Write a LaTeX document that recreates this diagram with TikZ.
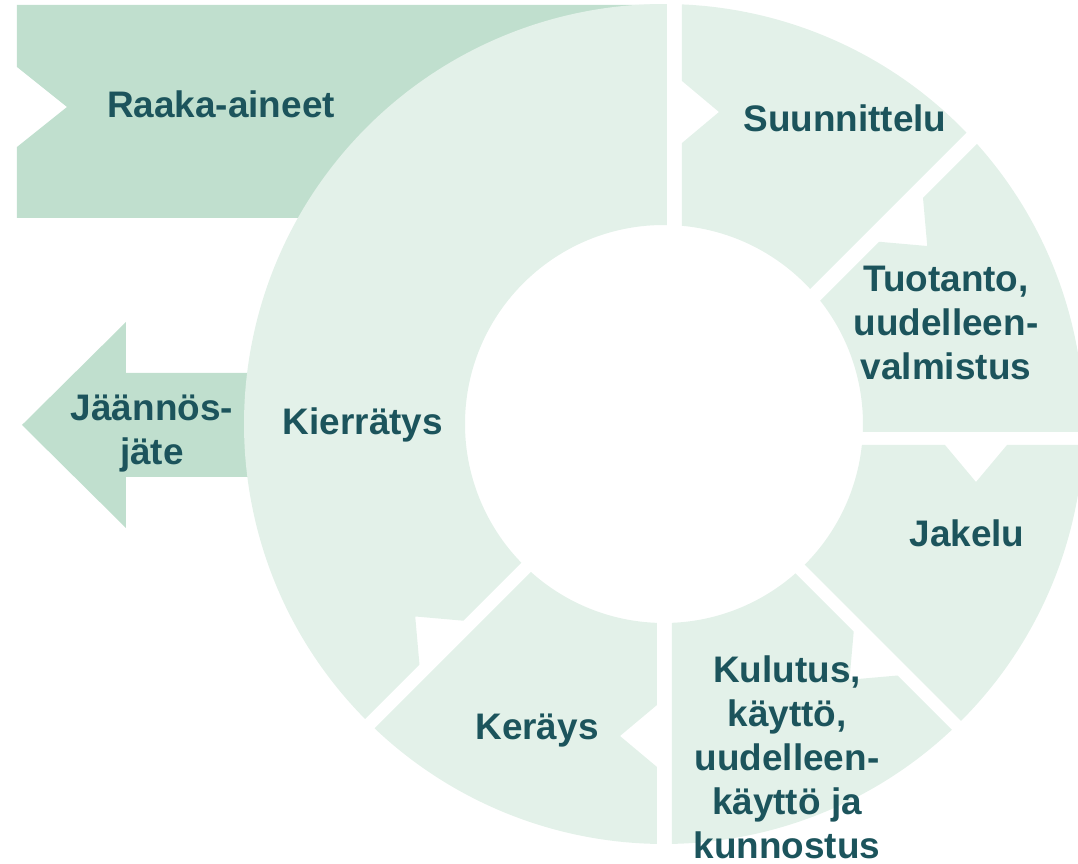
\documentclass[tikz,border=0pt]{standalone}
\usepackage{fontspec}
\setmainfont{Liberation Sans}
\usetikzlibrary{calc}

\definecolor{ringfill}{RGB}{227,241,233}
\definecolor{bandfill}{RGB}{192,223,206}
\definecolor{labeltext}{RGB}{28,84,92}

\tikzset{
  seglabel/.style={font=\bfseries\fontsize{10.5}{12.5}\selectfont, text=labeltext, align=center, inner sep=0pt},
}

% one part of the ring: #1 start angle, #2 start offset, #3 end angle, #4 end offset
\newcommand{\ringpart}[4]{%
  \fill[ringfill]
    ({#1-asin(#2/420)}:420) arc[start angle={#1-asin(#2/420)}, end angle={#3-asin(#4/420)}, radius=420]
    -- ({#3-asin(#4/199)}:199) arc[start angle={#3-asin(#4/199)}, end angle={#1-asin(#2/199)}, radius=199]
    -- ($(#1:281)+(#1-90:#2)$) -- ($(#1:312)+(#1-90:{#2+37})$) -- ($(#1:343)+(#1-90:#2)$) -- cycle;}

\begin{document}
\begin{tikzpicture}[x=0.01cm, y=0.01cm]
  \useasboundingbox (-664,-440) rectangle (414,424);
  \clip (-664,-440) rectangle (414,424);

  % inputs and outputs
  \fill[bandfill] (-647,419) -- (3,419) -- (3,206) -- (-647,206) -- (-647,277) -- (-597,317) -- (-647,357) -- cycle;
  \fill[bandfill] (-642,-1) -- (-538,102) -- (-538,51) -- (-350,51) -- (-350,-53) -- (-538,-53) -- (-538,-104) -- cycle;

  % the cycle
  \ringpart{90}{18}{45}{7.8}
  \ringpart{45}{23.3}{0}{8}
  \ringpart{0}{21}{-45}{0}
  \ringpart{-45}{12.7}{-90}{-8}
  \ringpart{-90}{7}{-135}{-10.6}
  \ringpart{225}{2.8}{90}{3}

  \node[seglabel, anchor=base] (raaka) at (-443,306) {Raaka-aineet};
  \node[seglabel, anchor=base] (suunnittelu) at (181,292) {Suunnittelu};
  \node[seglabel] (tuotanto) at (282,101) {Tuotanto,\\uudelleen-\\valmistus};
  \node[seglabel, anchor=base] (jakelu) at (303,-123) {Jakelu};
  \node[seglabel] (kulutus) at (123,-333) {Kulutus,\\käyttö,\\uudelleen-\\käyttö ja\\kunnostus};
  \node[seglabel, anchor=base] (kerays) at (-127,-316) {Keräys};
  \node[seglabel, anchor=base] (kierratys) at (-301,-11) {Kierrätys};
  \node[seglabel] (jaannos) at (-512,-10) {Jäännös-\\jäte};
\end{tikzpicture}
\end{document}
